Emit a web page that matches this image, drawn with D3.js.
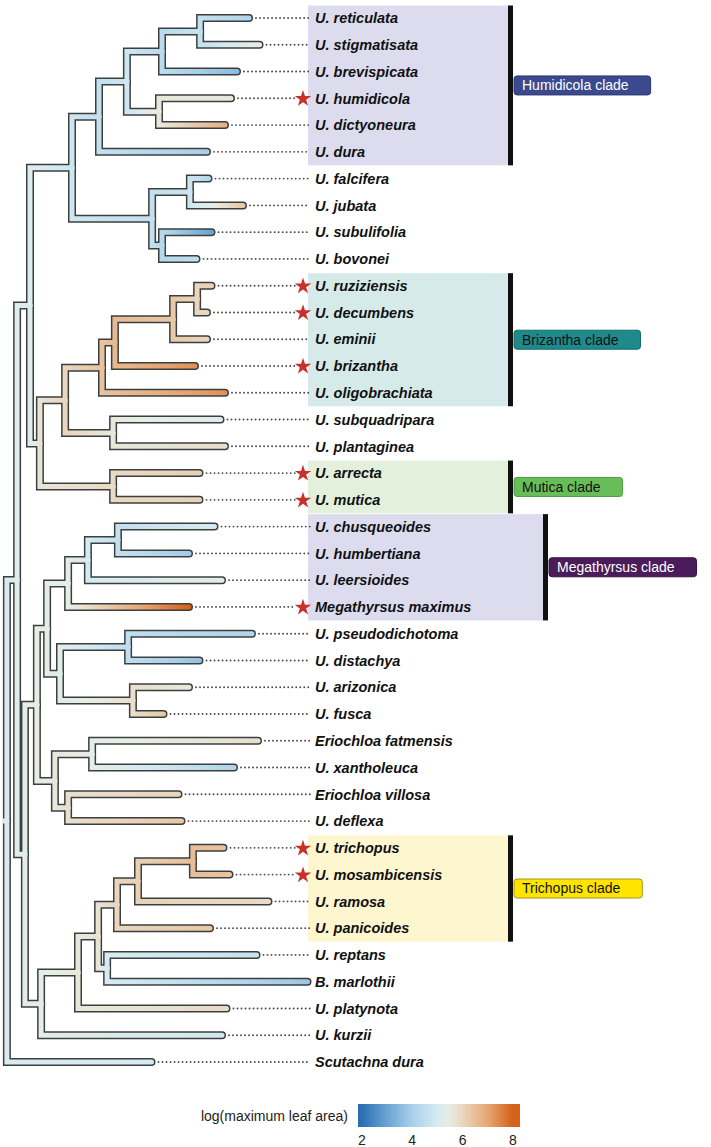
<!DOCTYPE html>
<html><head><meta charset="utf-8">
<script src="https://cdn.jsdelivr.net/npm/d3@7"></script>
<style>body{margin:0;background:#fff} svg{display:block}</style>
</head><body>
<svg id="chart" width="711" height="1147"></svg>
<script>
// ---------------- DATA ----------------
const tipNames = ["U. reticulata","U. stigmatisata","U. brevispicata","U. humidicola","U. dictyoneura","U. dura",
  "U. falcifera","U. jubata","U. subulifolia","U. bovonei","U. ruziziensis","U. decumbens","U. eminii",
  "U. brizantha","U. oligobrachiata","U. subquadripara","U. plantaginea","U. arrecta","U. mutica",
  "U. chusqueoides","U. humbertiana","U. leersioides","Megathyrsus maximus","U. pseudodichotoma",
  "U. distachya","U. arizonica","U. fusca","Eriochloa fatmensis","U. xantholeuca","Eriochloa villosa",
  "U. deflexa","U. trichopus","U. mosambicensis","U. ramosa","U. panicoides","U. reptans","B. marlothii",
  "U. platynota","U. kurzii","Scutachna dura"];
// log(maximum leaf area) at tips
const tipValues = [4.2,5.5,3.5,5.6,6.8,4.0, 4.3,6.3,3.0,4.5, 6.1,6.0,6.0,7.3,7.3, 5.2,5.8, 6.1,6.1,
  5.0,3.9,5.4,8.0, 4.2,3.7,5.6,6.3, 5.8,4.2,6.0,6.3, 6.4,6.4,5.9,6.3, 4.7,3.8,5.9,4.9,5.0];
// cumulative branch depth of tips (relative units)
const tipDepths = [82,85.5,78,76,74,68, 68.5,80,69.5,64.5, 69.5,68,68,64,74, 72.5,74, 65.5,65.5,
  70.5,62,73,62, 83,65.5,62,53.5, 85,77,58.5,59.5, 73.5,75.5,88.5,69, 84.5,101.5,74.5,73,49.5];
const starredTips = ["U. humidicola","U. ruziziensis","U. decumbens","U. brizantha","U. arrecta","U. mutica",
  "Megathyrsus maximus","U. trichopus","U. mosambicensis"];

// internal nodes: id, children, depth, reconstructed value
const nodeIds = ["A","B","C","D","E","F","G","H","I","J","K","L","M","N","O","P","Q","R",
  "S","T","U","V","W","X","Y","Z","AA","AB","AC","AD","AE","AF","AG","AH","AI","AJ","AK","AL","root"];
const nodeChildren = [
  ["U. reticulata","U. stigmatisata"],["A","U. brevispicata"],["U. humidicola","U. dictyoneura"],["B","C"],["D","U. dura"],
  ["U. falcifera","U. jubata"],["U. subulifolia","U. bovonei"],["F","G"],["E","H"],
  ["U. ruziziensis","U. decumbens"],["J","U. eminii"],["K","U. brizantha"],["L","U. oligobrachiata"],
  ["U. subquadripara","U. plantaginea"],["M","N"],["U. arrecta","U. mutica"],["O","P"],["I","Q"],
  ["U. chusqueoides","U. humbertiana"],["S","U. leersioides"],["T","Megathyrsus maximus"],
  ["U. pseudodichotoma","U. distachya"],["U. arizonica","U. fusca"],["V","W"],["U","X"],
  ["Eriochloa fatmensis","U. xantholeuca"],["Eriochloa villosa","U. deflexa"],["Z","AA"],["Y","AB"],
  ["U. trichopus","U. mosambicensis"],["AD","U. ramosa"],["AE","U. panicoides"],["U. reptans","B. marlothii"],
  ["AF","AG"],["AH","U. platynota"],["AI","U. kurzii"],["AC","AJ"],["R","AK"],["AL","Scutachna dura"]];
const nodeDepths = [65.7,53,52,41.3,32,62.3,53,49.7,23,64.7,56.7,37.3,33,36.7,20.7,36.7,12.3,9,
  38.3,28.3,21.7,41.7,43.3,19,14.7,29.7,21.7,17.3,11.3,63.3,45,38,34.7,31.7,25,12.7,7.3,4.7,1.3];
const nodeValues = [4.6,4.4,5.6,4.8,4.6,4.8,4.3,4.6,4.8,6.0,6.3,6.6,6.4,5.6,6.0,5.9,5.7,5.2,
  4.6,5.0,5.4,4.5,5.8,5.3,5.4,5.4,5.8,5.6,5.5,6.5,6.1,6.0,5.0,5.7,5.6,5.4,5.4,5.2,5.1];

const cladeNames = ["Humidicola clade","Brizantha clade","Mutica clade","Megathyrsus clade","Trichopus clade"];
const cladeFirst = ["U. reticulata","U. ruziziensis","U. arrecta","U. chusqueoides","U. trichopus"];
const cladeLast  = ["U. dura","U. oligobrachiata","U. mutica","Megathyrsus maximus","U. panicoides"];

const legendTitle = "log(maximum leaf area)";
const legendTicks = [2,4,6,8];

// ---------------- STYLES ----------------
const cladeStyle = {
  "Humidicola clade":  {shade:"#dcdcee", fill:"#3b4a8e", stroke:"#2c3870", text:"#ffffff", right:508},
  "Brizantha clade":   {shade:"#d5eae9", fill:"#1f8a8c", stroke:"#176a6b", text:"#111111", right:508},
  "Mutica clade":      {shade:"#e3f0dc", fill:"#69bd59", stroke:"#4e9a42", text:"#111111", right:508},
  "Megathyrsus clade": {shade:"#dcdcee", fill:"#4a1c5a", stroke:"#361244", text:"#ffffff", right:543},
  "Trichopus clade":   {shade:"#fdf6cf", fill:"#ffe400", stroke:"#a8941c", text:"#111111", right:508}
};
const colorDomain = [2, 3, 4, 5, 5.5, 6, 7, 8];
const colorRange  = ["#2b6fb2","#6aa4d3","#a8d0ea","#d6ebf1","#e7ede4","#e9d6bd","#e6a673","#d5611b"];
const color = d3.scaleLinear().domain(colorDomain).range(colorRange).clamp(true);
const FONT = "'Liberation Sans', Arial, Helvetica, sans-serif";

// ---------------- BUILD TREE ----------------
const svg = d3.select("#chart");
const x = d3.scaleLinear().domain([0, 100]).range([3, 303]);
const y = d3.scaleLinear().domain([0, tipNames.length - 1]).range([18, 1062]);

const nodes = {};
tipNames.forEach((n, i) => nodes[n] = {name:n, tip:true, idx:i, depth:tipDepths[i], value:tipValues[i], children:[]});
nodeIds.forEach((id, i) => nodes[id] = {name:id, tip:false, depth:nodeDepths[i], value:nodeValues[i], children:[]});
nodeIds.forEach((id, i) => nodeChildren[i].forEach(c => { nodes[id].children.push(nodes[c]); nodes[c].parent = nodes[id]; }));
function setY(n) {
  if (n.tip) { n.y = y(n.idx); return n.y; }
  n.y = d3.mean(n.children.map(setY));
  return n.y;
}
const root = nodes["root"];
setY(root);

// ---------------- CLADE SHADES ----------------
const gShade = svg.append("g");
cladeNames.forEach((c, i) => {
  const st = cladeStyle[c];
  const y0 = y(nodes[cladeFirst[i]].idx) - 12.5;
  const y1 = y(nodes[cladeLast[i]].idx) + 13.5;
  gShade.append("rect").attr("x", 308).attr("y", y0).attr("width", st.right - 308).attr("height", y1 - y0)
    .attr("fill", st.shade);
  gShade.append("rect").attr("x", st.right).attr("y", y0).attr("width", 5).attr("height", y1 - y0)
    .attr("fill", "#111");
});

// ---------------- BRANCHES ----------------
const defs = svg.append("defs");
const branches = [];
(function walk(n) { n.children.forEach(c => { branches.push({p:n, c:c}); walk(c); }); })(root);

branches.forEach((b, i) => {
  const gid = "bg" + i;
  const grad = defs.append("linearGradient").attr("id", gid).attr("gradientUnits", "userSpaceOnUse")
    .attr("x1", x(b.p.depth)).attr("x2", x(b.c.depth)).attr("y1", 0).attr("y2", 0);
  d3.range(0, 1.0001, 0.125).forEach(t => {
    grad.append("stop").attr("offset", t).attr("stop-color", color(b.p.value + t * (b.c.value - b.p.value)));
  });
  b.grad = gid;
  b.d = `M${x(b.p.depth)},${b.p.y}V${b.c.y}H${x(b.c.depth)}`;
});
const rootPath = `M${x(0)},${root.y}H${x(root.depth)}`;

const gTree = svg.append("g");
gTree.selectAll("path.out").data(branches).join("path").attr("class","out")
  .attr("d", d => d.d).attr("fill","none").attr("stroke","#3c3f40").attr("stroke-width", 8)
  .attr("stroke-linecap","round").attr("stroke-linejoin","miter");
gTree.append("path").attr("d", rootPath).attr("fill","none").attr("stroke","#3c3f40").attr("stroke-width",8);
gTree.selectAll("path.in").data(branches).join("path").attr("class","in")
  .attr("d", d => d.d).attr("fill","none").attr("stroke", d => `url(#${d.grad})`).attr("stroke-width", 5)
  .attr("stroke-linecap","round").attr("stroke-linejoin","miter");
gTree.append("path").attr("d", rootPath).attr("fill","none").attr("stroke", color(root.value)).attr("stroke-width",5);

// ---------------- DOTTED LEADERS, STARS, LABELS ----------------
const tips = tipNames.map(n => nodes[n]);
const gLab = svg.append("g");
tips.forEach(t => {
  const starred = starredTips.includes(t.name);
  const xs = x(t.depth) + 7, xe = starred ? 295 : 310;
  if (xe > xs) {
    gLab.append("line").attr("x1", xs).attr("x2", xe).attr("y1", t.y).attr("y2", t.y)
      .attr("stroke","#4a4a4a").attr("stroke-width",1.9).attr("stroke-linecap","round")
      .attr("stroke-dasharray","0.01,4");
  }
  if (starred) {
    gLab.append("path").attr("d", d3.symbol(d3.symbolStar, 85)()).attr("transform", `translate(303,${t.y + 0.5})`)
      .attr("fill","#c8302c");
  }
  gLab.append("text").attr("x", 315).attr("y", t.y).attr("dy","0.36em")
    .attr("font-family", FONT).attr("font-size","14.5px")
    .attr("font-weight","bold").attr("font-style","italic").attr("fill","#111").text(t.name);
});

// ---------------- CLADE LABELS ----------------
cladeNames.forEach((c, i) => {
  const st = cladeStyle[c];
  const yc = (y(nodes[cladeFirst[i]].idx) + y(nodes[cladeLast[i]].idx)) / 2 + 0.5;
  const g = svg.append("g");
  const rect = g.append("rect").attr("x", st.right + 6).attr("y", yc - 9.5).attr("height", 19).attr("rx", 3)
    .attr("fill", st.fill).attr("stroke", st.stroke).attr("stroke-width", 1);
  const txt = g.append("text").attr("x", st.right + 14).attr("y", yc).attr("dy","0.35em")
    .attr("font-family", FONT).attr("font-size","14px")
    .attr("fill", st.text).text(c);
  rect.attr("width", txt.node().getComputedTextLength() + 30);
});

// ---------------- LEGEND ----------------
const lx = d3.scaleLinear().domain([1.85, 8.28]).range([358, 520]);
const lg = defs.append("linearGradient").attr("id","legendGrad").attr("gradientUnits","userSpaceOnUse")
  .attr("x1", lx(1.85)).attr("x2", lx(8.28));
d3.range(1.85, 8.2801, 0.1).forEach(v => {
  lg.append("stop").attr("offset", (lx(v) - lx(1.85)) / (lx(8.28) - lx(1.85))).attr("stop-color", color(v));
});
const gLeg = svg.append("g");
gLeg.append("rect").attr("x", lx(1.85)).attr("y", 1104).attr("width", lx(8.28) - lx(1.85)).attr("height", 23)
  .attr("fill","url(#legendGrad)");
gLeg.append("text").attr("x", 348).attr("y", 1116).attr("dy","0.35em").attr("text-anchor","end")
  .attr("font-family", FONT).attr("font-size","14px").attr("fill","#222")
  .text(legendTitle);
gLeg.selectAll("text.tick").data(legendTicks).join("text").attr("class","tick")
  .attr("x", d => lx(d)).attr("y", 1145).attr("text-anchor","middle")
  .attr("font-family", FONT).attr("font-size","14px").attr("fill","#222")
  .text(d => d);
</script>
</body></html>
